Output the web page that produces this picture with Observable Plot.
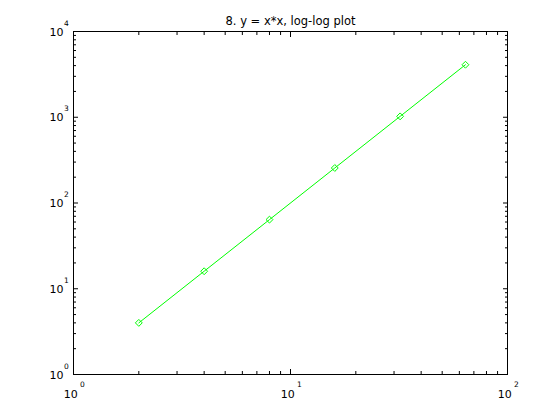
<!DOCTYPE html>
<html>
<head>
<meta charset="utf-8">
<script src="https://cdn.jsdelivr.net/npm/d3@7"></script>
<script src="https://cdn.jsdelivr.net/npm/@observablehq/plot@0.6"></script>
<style>
  html, body { margin: 0; padding: 0; background: #fff; }
  #chart svg { display: block; }
</style>
</head>
<body>
<div id="chart"></div>
<script>
// Data
const xValues = [2, 4, 8, 16, 32, 64];
const yValues = [4, 16, 64, 256, 1024, 4096];
const titleText = "8. y = x*x, log-log plot";
const xDecades = [1, 10, 100];
const yDecades = [1, 10, 100, 1000, 10000];

const points = xValues.map((x, i) => ({x, y: yValues[i]}));

const W = 560, H = 420;
const mL = 73, mR = 53, mT = 31, mB = 46;
const majorLen = 5, minorLen = 3;
const font = "DejaVu Sans, Liberation Sans, Arial, sans-serif";

const xMajorInner = xDecades.slice(1, -1);
const yMajorInner = yDecades.slice(1, -1);
const minorsOf = (decs) => {
  const out = [];
  for (let i = 0; i < decs.length - 1; i++)
    for (let k = 2; k <= 9; k++) out.push(decs[i] * k);
  return out;
};
const xMinor = minorsOf(xDecades);
const yMinor = minorsOf(yDecades);
const exp = d => String(Math.round(Math.log10(d)));
const blank = () => "";

const tickAxes = [];
for (const anchor of ["bottom", "top"]) {
  tickAxes.push(Plot.axisX({anchor, ticks: xMajorInner, tickSize: -majorLen, tickFormat: blank, label: null, stroke: "#000"}));
  tickAxes.push(Plot.axisX({anchor, ticks: xMinor, tickSize: -minorLen, tickFormat: blank, label: null, stroke: "#000"}));
}
for (const anchor of ["left", "right"]) {
  tickAxes.push(Plot.axisY({anchor, ticks: yMajorInner, tickSize: -majorLen, tickFormat: blank, label: null, stroke: "#000"}));
  tickAxes.push(Plot.axisY({anchor, ticks: yMinor, tickSize: -minorLen, tickFormat: blank, label: null, stroke: "#000"}));
}

const chart = Plot.plot({
  width: W, height: H,
  marginLeft: mL, marginRight: mR, marginTop: mT, marginBottom: mB,
  style: {fontFamily: font, background: "#fff", color: "#000"},
  x: {type: "log", domain: [1, 100], label: null},
  y: {type: "log", domain: [1, 10000], label: null},
  marks: [
    ...tickAxes,
    Plot.frame({stroke: "#000"}),
    // x tick labels 10^n
    Plot.text(xDecades, {x: d => d, frameAnchor: "bottom", text: () => "10", textAnchor: "end", lineAnchor: "bottom", dx: 4.3, dy: 23, fontSize: 11, fill: "#000"}),
    Plot.text(xDecades, {x: d => d, frameAnchor: "bottom", text: exp, textAnchor: "start", lineAnchor: "bottom", dx: 6.5, dy: 12, fontSize: 7.5, fill: "#000"}),
    // y tick labels 10^n
    Plot.text(yDecades, {y: d => d, frameAnchor: "left", text: () => "10", textAnchor: "end", lineAnchor: "bottom", dx: -10, dy: 4, fontSize: 11, fill: "#000"}),
    Plot.text(yDecades, {y: d => d, frameAnchor: "left", text: exp, textAnchor: "start", lineAnchor: "bottom", dx: -9.5, dy: -6, fontSize: 7.5, fill: "#000"}),
    // title
    Plot.text([titleText], {frameAnchor: "top", text: d => d, lineAnchor: "bottom", dy: -7, fontSize: 11.5, fill: "#000"}),
    // data
    Plot.line(points, {x: "x", y: "y", stroke: "#00ff00", strokeWidth: 1}),
    Plot.dot(points, {x: "x", y: "y", symbol: "diamond2", r: 3.1, stroke: "#00ff00", fill: "none", strokeWidth: 1})
  ]
});
document.getElementById("chart").appendChild(chart);
</script>
</body>
</html>
